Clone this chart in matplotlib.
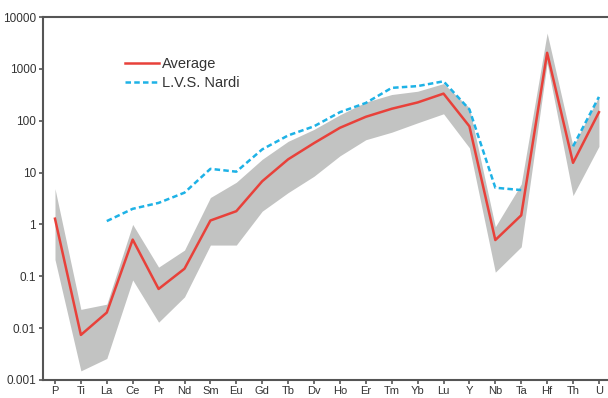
import numpy as np
import matplotlib
matplotlib.use("Agg")
import matplotlib.pyplot as plt

elements = ["P", "Ti", "La", "Ce", "Pr", "Nd", "Sm", "Eu", "Gd", "Tb", "Dv", "Ho",
            "Er", "Tm", "Yb", "Lu", "Y", "Nb", "Ta", "Hf", "Th", "U"]
average = [1.29, 0.0074, 0.020, 0.51, 0.057, 0.14, 1.19, 1.8, 6.8, 18.0, 37, 73,
           119, 170, 225, 333, 78, 0.50, 1.5, 2040, 15.4, 146]
upper = [4.9, 0.023, 0.029, 1.0, 0.15, 0.32, 3.3, 6.5, 18, 40, 68, 130,
         228, 320, 370, 520, 177, 0.9, 6.0, 4900, 32, 295]
lower = [0.21, 0.0015, 0.0026, 0.085, 0.013, 0.040, 0.40, 0.40, 1.8, 4.1, 8.5, 21,
         43, 60, 91, 136, 30, 0.12, 0.37, 1300, 3.6, 32]
nardi = [np.nan, np.nan, 1.16, 2.0, 2.6, 4.1, 11.8, 10.4, 28, 52, 78, 146,
         220, 430, 465, 575, 165, 5.1, 4.6, np.nan, 32, 288]
yticks = [0.001, 0.01, 0.1, 1, 10, 100, 1000, 10000]
ytick_labels = ["0.001", "0.01", "0.1", "1", "10", "100", "1000", "10000"]

plt.rcParams['font.family'] = ['Liberation Sans', 'DejaVu Sans']

fig = plt.figure(figsize=(6.08, 3.98), dpi=100)
ax = fig.add_axes([43/608, 18/398, 1 - 43/608, (380-17)/398])

x = np.arange(len(elements))
ax.fill_between(x, lower, upper, color='#c2c3c2', linewidth=0, zorder=1)
ax.plot(x, average, color='#e8413a', lw=1.8, zorder=3, label='Average')
ax.plot(x, nardi, color='#1eb2e6', lw=1.8, ls=(0, (2.2, 1.3)), zorder=2, label='L.V.S. Nardi')

ax.set_yscale('log')
ax.set_ylim(0.001, 10000)
ax.set_xlim(-0.463, 21.35)
ax.set_yticks(yticks)
ax.set_yticklabels(ytick_labels)
ax.yaxis.set_minor_locator(matplotlib.ticker.NullLocator())
ax.set_xticks(x)
ax.set_xticklabels(elements)

for side in ['left', 'bottom', 'top']:
    ax.spines[side].set_color('#555555')
    ax.spines[side].set_linewidth(1.5)
ax.spines['right'].set_visible(False)
ax.tick_params(axis='both', direction='out', color='#555555', width=1.2, length=3,
               labelsize=8.5, labelcolor='#333333')
ax.tick_params(axis='y', pad=2)
ax.tick_params(axis='x', pad=1.5, labelsize=8)

leg = ax.legend(loc='upper left', bbox_to_anchor=(0.135, 0.905), frameon=False,
                fontsize=10.5, handlelength=2.3, handletextpad=0.2, labelspacing=0.35,
                borderaxespad=0)
for t in leg.get_texts():
    t.set_color('#333333')

fig.savefig('out.png', dpi=100)
